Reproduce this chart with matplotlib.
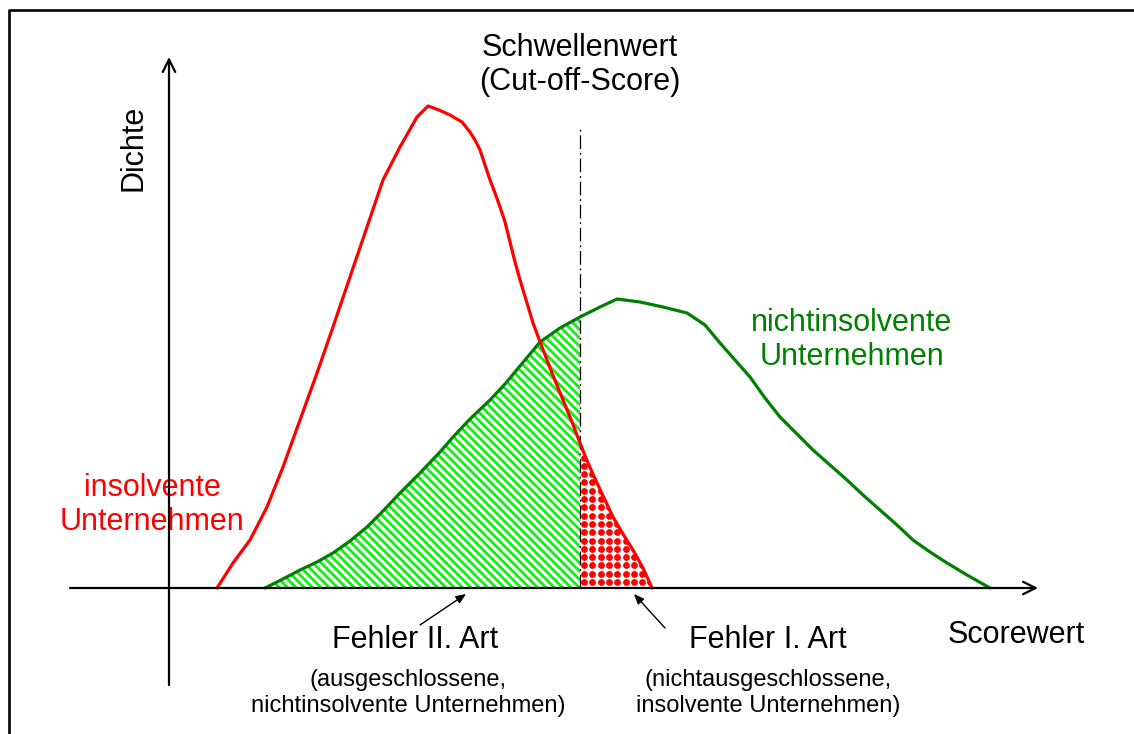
import matplotlib.pyplot as plt
import numpy as np

plt.rcParams['font.family'] = ['Liberation Sans', 'DejaVu Sans']
plt.rcParams['hatch.linewidth'] = 2.0

# score / density (origin where the axes cross)
red_score = [48, 64, 81, 98, 114, 131, 148, 164, 181, 198, 214, 231, 248, 259,
             270, 281, 293, 301, 306, 311, 316, 321, 326, 331, 336, 341, 346,
             351, 358, 364, 373, 383, 394, 403, 411, 419, 428, 436, 444, 454,
             464, 474, 483]
red_dens = [0, 25, 48, 81, 121, 168, 215, 261, 311, 361, 408, 441, 471, 482,
            478, 473, 466, 456, 448, 438, 423, 408, 395, 381, 366, 346, 326,
            308, 285, 265, 241, 215, 188, 166, 145, 125, 105, 88, 71, 54, 38,
            20, 0]

green_score = [96, 114, 131, 148, 164, 181, 198, 214, 231, 251, 271, 284, 301,
               321, 336, 351, 371, 391, 411, 431, 448, 471, 494, 518, 536, 551,
               566, 581, 596, 611, 628, 644, 661, 678, 694, 711, 728, 744, 761,
               778, 798, 821]
green_dens = [0, 9, 18, 26, 35, 47, 61, 77, 95, 115, 136, 151, 169, 188, 204,
              222, 246, 260, 271, 281, 289, 286, 281, 275, 263, 245, 228, 211,
              190, 171, 154, 138, 123, 108, 93, 78, 63, 48, 36, 25, 13, 0]

cutoff = 411

RED = '#ff0000'
DKGREEN = '#008000'
HATCHGREEN = '#11ee11'

rs = np.array(red_score)
rd = np.array(red_dens)
gs = np.array(green_score)
gd = np.array(green_dens)

fig = plt.figure(figsize=(11.34, 7.34), dpi=100)
ax = fig.add_axes([0, 0, 1, 1])
ax.set_xlim(-169, 965)
ax.set_ylim(-146, 588)
ax.axis('off')

# frame (only left and top visible)
ax.plot([9 / 1134, 9 / 1134, 1.01], [-0.01, 1 - 10 / 734, 1 - 10 / 734],
        color='black', lw=1.9, transform=ax.transAxes, clip_on=False)

# Fehler II: hatched area under the green curve left of the cut-off
gm = gs <= cutoff
ax.fill_between(gs[gm], 0, gd[gm], facecolor='white', edgecolor=HATCHGREEN,
                linewidth=0, hatch='\\\\\\\\', zorder=2)

# Fehler I: dotted area under the red curve right of the cut-off
rm = rs >= cutoff
red_area = ax.fill_between(rs[rm], 0, rd[rm], facecolor='white',
                           linewidth=0, zorder=2)
step = 8.3
px, py = np.meshgrid(np.arange(cutoff + 4, rs.max(), step),
                     np.arange(6, rd[rm].max(), step))
dots = ax.scatter(px.ravel(), py.ravel(), s=24, color=RED, marker='o',
                  linewidths=0, zorder=3)
dots.set_clip_path(red_area.get_paths()[0], ax.transData)

# curves
ax.plot(gs, gd, color=DKGREEN, lw=2.3, zorder=4, solid_capstyle='round')
ax.plot(rs, rd, color=RED, lw=2.3, zorder=5, solid_capstyle='round')

# cut-off line
ax.plot([cutoff, cutoff], [0, 460], color='black', lw=0.9,
        linestyle=(0, (11, 3, 1.5, 3)), zorder=3)

# axes with open arrow heads
ax.annotate('', xy=(869, 0), xytext=(-99, 0),
            arrowprops=dict(arrowstyle='->,head_length=0.9,head_width=0.45',
                            color='black', lw=1.6, shrinkA=0, shrinkB=0),
            zorder=6)
ax.annotate('', xy=(0, 531), xytext=(0, -97),
            arrowprops=dict(arrowstyle='->,head_length=0.9,head_width=0.45',
                            color='black', lw=1.6, shrinkA=0, shrinkB=0),
            zorder=6)

# pointer arrows
for tail, head in [((251, -37), (297, -6)), ((496, -40), (465, -6))]:
    ax.annotate('', xy=head, xytext=tail,
                arrowprops=dict(arrowstyle='-|>,head_length=0.6,head_width=0.25',
                                color='black', lw=1.0, shrinkA=0, shrinkB=0))

big = 22
small = 17
ax.text(-36, 440, 'Dichte', rotation=90, fontsize=big, ha='center', va='center')
ax.text(411, 523, 'Schwellenwert\n(Cut-off-Score)', fontsize=big,
        ha='center', va='center', linespacing=1.2)
ax.text(683, 248, 'nichtinsolvente\nUnternehmen', fontsize=big, color=DKGREEN,
        ha='center', va='center', linespacing=1.15)
ax.text(-17, 83, 'insolvente\nUnternehmen', fontsize=big, color=RED,
        ha='center', va='center', linespacing=1.15)
ax.text(246, -52, 'Fehler II. Art', fontsize=big, ha='center', va='center')
ax.text(239, -105, '(ausgeschlossene,\nnichtinsolvente Unternehmen)',
        fontsize=small, ha='center', va='center', linespacing=1.27)
ax.text(599, -52, 'Fehler I. Art', fontsize=big, ha='center', va='center')
ax.text(599, -105, '(nichtausgeschlossene,\ninsolvente Unternehmen)',
        fontsize=small, ha='center', va='center', linespacing=1.27)
ax.text(847, -47, 'Scorewert', fontsize=big, ha='center', va='center')

fig.savefig('out.png', dpi=100)
